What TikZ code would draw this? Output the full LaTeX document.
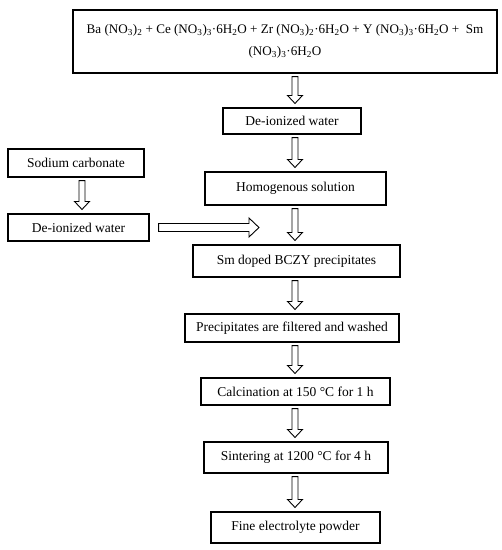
\documentclass[tikz,border=0pt]{standalone}
\usepackage{fontspec}
\setmainfont{Liberation Serif}
\usetikzlibrary{calc}
\newcommand{\chemsub}[1]{\textsubscript{#1}}

\begin{document}
\begin{tikzpicture}[x=1pt, y=-1pt, font=\fontsize{13.5}{19}\selectfont,
    box/.style={draw, line width=1.1pt, inner sep=0pt, align=center},
    arrow shaft/.store in=\arrshaft, arrow shaft=3pt,
    arrow wing/.store in=\arrwing, arrow wing=7.5pt,
    arrow head/.store in=\arrhead, arrow head=8pt,
    blockarrow/.style={draw, line width=0.9pt, to path={
        ($(\tikztostart)!3pt!(\tikztotarget)$) coordinate (ba-s)
        ($(\tikztotarget)!4pt!(\tikztostart)$) coordinate (ba-t)
        ($(ba-t)!\arrhead!(ba-s)$) coordinate (ba-h)
        ($(ba-s)!\arrshaft!90:(ba-t)$) -- ($(ba-h)!\arrshaft!90:(ba-t)$)
        -- ($(ba-h)!\arrwing!90:(ba-t)$) -- (ba-t)
        -- ($(ba-h)!\arrwing!-90:(ba-t)$) -- ($(ba-h)!\arrshaft!-90:(ba-t)$)
        -- ($(ba-s)!\arrshaft!-90:(ba-t)$) -- cycle}},
    bigarrow/.style={blockarrow, arrow shaft=4pt, arrow wing=9.5pt, arrow head=10pt}]
\useasboundingbox (0,0) rectangle (502,550);
\coordinate (axis) at (295,0);

% main line
\node [box, minimum width=424pt, minimum height=63pt, font=\fontsize{13.1}{22}\selectfont] (salts) at (285,41.5)
    {Ba (NO\chemsub{3})\chemsub{2} + Ce (NO\chemsub{3})\chemsub{3}·6H\chemsub{2}O + Zr (NO\chemsub{3})\chemsub{2}·6H\chemsub{2}O + Y (NO\chemsub{3})\chemsub{3}·6H\chemsub{2}O +\ \ Sm\\(NO\chemsub{3})\chemsub{3}·6H\chemsub{2}O};
\node [box, minimum width=138pt, minimum height=26pt] (dwtop) at (292,121) {De-ionized water};
\node [box, minimum width=181pt, minimum height=33pt] (homog) at (295.5,188.5) {Homogenous solution};
\node [box, minimum width=207pt, minimum height=32pt] (sm) at (296.5,261) {Sm doped BCZY precipitates};
\node [box, minimum width=214pt, minimum height=28pt] (prec) at (292,328) {Precipitates are filtered and washed};
\node [box, minimum width=189pt, minimum height=27pt] (calc) at (295.5,391.5) {Calcination at 150 °C for 1 h};
\node [box, minimum width=184pt, minimum height=31pt] (sint) at (296,457.5) {Sintering at 1200 °C for 4 h};
\node [box, minimum width=169pt, minimum height=31pt] (fine) at (295.5,527.5) {Fine electrolyte powder};

% side line
\node [box, minimum width=136pt, minimum height=28pt] (soda) at (76,163) {Sodium carbonate};
\node [box, minimum width=141pt, minimum height=27pt] (dwside) at (78.5,227.5) {De-ionized water};
\coordinate (feed) at (263,227.5);

\draw [blockarrow] (salts.south -| axis) to (dwtop.north -| axis);
\draw [blockarrow] (dwtop.south -| axis) to (homog.north -| axis);
\draw [blockarrow] (homog.south -| axis) to (sm.north -| axis);
\draw [blockarrow] (sm.south -| axis) to (prec.north -| axis);
\draw [blockarrow] (prec.south -| axis) to (calc.north -| axis);
\draw [blockarrow] (calc.south -| axis) to (sint.north -| axis);
\draw [blockarrow] (sint.south -| axis) to (fine.north -| axis);
\draw [blockarrow] ([xshift=6pt]soda.south) to ([xshift=3.5pt]dwside.north);
\draw [bigarrow] ($(dwside.east)+(6,0)$) to (feed);
\end{tikzpicture}
\end{document}
